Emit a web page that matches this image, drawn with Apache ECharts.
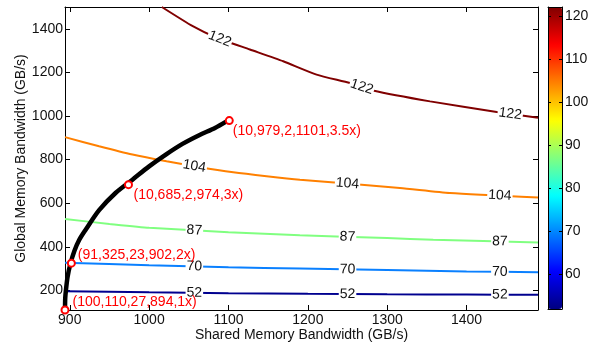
<!DOCTYPE html>
<html>
<head>
<meta charset="utf-8">
<style>
  html, body { margin: 0; padding: 0; background: #fff; }
  #main { width: 600px; height: 344px; }
</style>
<script src="https://cdn.jsdelivr.net/npm/echarts@6/dist/echarts.min.js"></script>
</head>
<body>
<div id="main"></div>
<script>
// contour levels and their jet colours
var levels = [52, 70, 87, 104, 122];
var levelColors = ['#00008f', '#0a80ff', '#80ff80', '#ff8000', '#800000'];

// contour lines: [shared BW, global BW]
var line52 = [[894, 196], [1000, 191], [1100, 187], [1200, 184], [1300, 182], [1400, 181], [1490, 180]];
var line70 = [[894, 327], [1000, 315], [1100, 306], [1190, 300], [1300, 293], [1400, 287], [1490, 283]];
var line87 = [[894, 527], [950, 505], [1000, 487], [1100, 467], [1190, 453], [1300, 440], [1358, 432], [1490, 420]];
var line104 = [[894, 903], [937, 861], [979, 823], [1022, 792], [1064, 765], [1106, 742], [1148, 724],
  [1190, 708], [1316, 670], [1379, 647], [1490, 626]];
var line122 = [[1016, 1500], [1055, 1412], [1085, 1359], [1127, 1305], [1169, 1251], [1211, 1190],
  [1253, 1151], [1282, 1117], [1354, 1067], [1438, 1018], [1490, 992]];
var contourLines = [line52, line70, line87, line104, line122];

// where the level numbers sit on each line (shared BW)
var labelX = [1057, 1250, 1442];
var labelX122 = [1089, 1268, 1455];

// the black design path
var pathShared = [894, 894.3, 895.3, 897.3, 900.8, 905.8, 912, 920, 937, 958, 979, 1000, 1021, 1042, 1063, 1083, 1097];
var pathGlobal = [110, 165, 205, 263, 322, 381, 432, 478, 568, 648, 708, 769, 823, 872, 912, 945, 974];

// marked points on the path
var ptShared = [894, 902, 974, 1101];
var ptGlobal = [110, 325, 685, 979];
var ptText = ['(100,110,27,894,1x)', '(91,325,23,902,2x)', '(10,685,2,974,3x)', '(10,979,2,1101,3.5x)'];

// axes and colour bar
var xMin = 894, xMax = 1490;
var yMin = 110, yMax = 1500;
var xTicks = [900, 1000, 1100, 1200, 1300, 1400];
var yTicks = [200, 400, 600, 800, 1000, 1200, 1400];
var cbMin = 52, cbMax = 122.2;
var cbTicks = [60, 70, 80, 90, 100, 110, 120];
var jet = ['#000080', '#0000ff', '#0080ff', '#00ffff', '#80ff80', '#ffff00', '#ff8000', '#ff0000', '#800000'];

var font = 'Liberation Sans, Arial, sans-serif';
var ink = '#111';

function yAt(line, x) {
  for (var i = 1; i < line.length; i++) {
    if (x <= line[i][0]) {
      var a = line[i - 1], b = line[i];
      return a[1] + (b[1] - a[1]) * (x - a[0]) / (b[0] - a[0]);
    }
  }
  return line[line.length - 1][1];
}

var chart = echarts.init(document.getElementById('main'));

function plain(v) { return String(v); }

function mainAxis(pos, showLabel, vals, min, max) {
  return {
    type: 'value', position: pos, min: min, max: max, gridIndex: 0,
    axisLine: { show: true, onZero: false, lineStyle: { color: '#000', width: 1 } },
    axisTick: { show: true, inside: true, length: 5, customValues: vals, lineStyle: { color: '#000' } },
    axisLabel: { show: showLabel, customValues: vals, formatter: plain, fontSize: 14, color: ink, fontFamily: font, margin: 3 },
    splitLine: { show: false }
  };
}

var xBottom = mainAxis('bottom', true, xTicks, xMin, xMax);
xBottom.name = 'Shared Memory Bandwidth (GB/s)';
xBottom.nameLocation = 'middle';
xBottom.nameGap = 18;
xBottom.nameMoveOverlap = false;
xBottom.nameTextStyle = { fontSize: 14, color: ink, fontFamily: font };
var xTop = mainAxis('top', false, xTicks, xMin, xMax);
var yLeft = mainAxis('left', true, yTicks, yMin, yMax);
yLeft.name = 'Global Memory Bandwidth (GB/s)';
yLeft.nameLocation = 'middle';
yLeft.nameGap = 37;
yLeft.nameMoveOverlap = false;
yLeft.nameTextStyle = { fontSize: 14, color: ink, fontFamily: font };
yLeft.axisLabel.margin = 2;
var yRight = mainAxis('right', false, yTicks, yMin, yMax);

var series = [];
contourLines.forEach(function (line, i) {
  series.push({
    type: 'line', name: String(levels[i]), data: line, showSymbol: false, smooth: 0.2,
    lineStyle: { color: levelColors[i], width: 2 }, z: 2, silent: true
  });
});

series.push({
  type: 'line', name: 'path',
  data: pathShared.map(function (x, i) { return [x, pathGlobal[i]]; }),
  showSymbol: false, smooth: 0.3, lineStyle: { color: '#000', width: 4.5 }, z: 4, silent: true
});

var ptLabelOffset = [[3, -8], [2, -8], [0.5, 10], [-1, 11]];
series.push({
  type: 'scatter', name: 'points', symbol: 'emptyCircle', symbolSize: 7, clip: false, z: 6,
  itemStyle: { color: '#ff0000', borderColor: '#ff0000', borderWidth: 1.2, opacity: 1 },
  data: ptShared.map(function (x, i) {
    return {
      value: [x, ptGlobal[i]],
      label: {
        show: true, position: 'right', distance: ptLabelOffset[i][0],
        offset: [0, ptLabelOffset[i][1]], formatter: ptText[i]
      }
    };
  }),
  label: { color: '#ff0000', fontSize: 14, fontFamily: font }
});

var labelSeriesIndex = series.length;
function contourLabels(rotations) {
  var data = [];
  contourLines.forEach(function (line, i) {
    var xs = i === 4 ? labelX122 : labelX;
    xs.forEach(function (x) {
      data.push({
        value: [x, yAt(line, x)],
        label: { formatter: String(levels[i]), rotate: rotations ? rotations[data.length] : 0 }
      });
    });
  });
  return data;
}
series.push({
  type: 'scatter', name: 'levels', symbolSize: 0, z: 5, silent: true,
  itemStyle: { opacity: 1 },
  data: contourLabels(null),
  label: {
    show: true, position: 'inside', fontSize: 14, color: ink, fontFamily: font,
    backgroundColor: '#fff', padding: [0, 1]
  }
});

var option = {
  animation: false,
  textStyle: { fontFamily: font },
  grid: [
    { left: 65, top: 7, width: 473, height: 303, outerBoundsMode: 'none' },
    { left: 548, top: 7, width: 14, height: 302, outerBoundsMode: 'none' }
  ],
  xAxis: [
    xBottom, xTop,
    { type: 'value', gridIndex: 1, position: 'bottom', min: 0, max: 1, z: 10,
      axisLine: { show: true, onZero: false, lineStyle: { color: '#000' } },
      axisTick: { show: false }, axisLabel: { show: false }, splitLine: { show: false } },
    { type: 'value', gridIndex: 1, position: 'top', min: 0, max: 1, z: 10,
      axisLine: { show: true, onZero: false, lineStyle: { color: '#000' } },
      axisTick: { show: false }, axisLabel: { show: false }, splitLine: { show: false } }
  ],
  yAxis: [
    yLeft, yRight,
    { type: 'value', gridIndex: 1, position: 'right', min: cbMin, max: cbMax, z: 10,
      axisLine: { show: true, onZero: false, lineStyle: { color: '#000' } },
      axisTick: { show: true, inside: true, length: 3, customValues: cbTicks, lineStyle: { color: '#000' } },
      axisLabel: { show: true, customValues: cbTicks, fontSize: 14, color: ink, fontFamily: font, margin: 3 },
      splitLine: { show: false } },
    { type: 'value', gridIndex: 1, position: 'left', min: cbMin, max: cbMax, z: 10,
      axisLine: { show: true, onZero: false, lineStyle: { color: '#000' } },
      axisTick: { show: true, inside: true, length: 3, customValues: cbTicks, lineStyle: { color: '#000' } },
      axisLabel: { show: false }, splitLine: { show: false } }
  ],
  visualMap: {
    type: 'continuous', min: cbMin, max: cbMax, seriesIndex: [], calculable: false,
    orient: 'vertical', left: 548, top: 7, itemWidth: 14, itemHeight: 302, padding: 0,
    hoverLink: false, inRange: { color: jet }
  },
  series: series
};

chart.setOption(option);

// tilt each level number along its line
var rotations = [];
contourLines.forEach(function (line, i) {
  var xs = i === 4 ? labelX122 : labelX;
  xs.forEach(function (x) {
    var p0 = chart.convertToPixel({ gridIndex: 0 }, [x - 12, yAt(line, x - 12)]);
    var p1 = chart.convertToPixel({ gridIndex: 0 }, [x + 12, yAt(line, x + 12)]);
    rotations.push(-Math.atan2(p1[1] - p0[1], p1[0] - p0[0]) * 180 / Math.PI);
  });
});
series[labelSeriesIndex].data = contourLabels(rotations);
chart.setOption({ series: series });
</script>
</body>
</html>
